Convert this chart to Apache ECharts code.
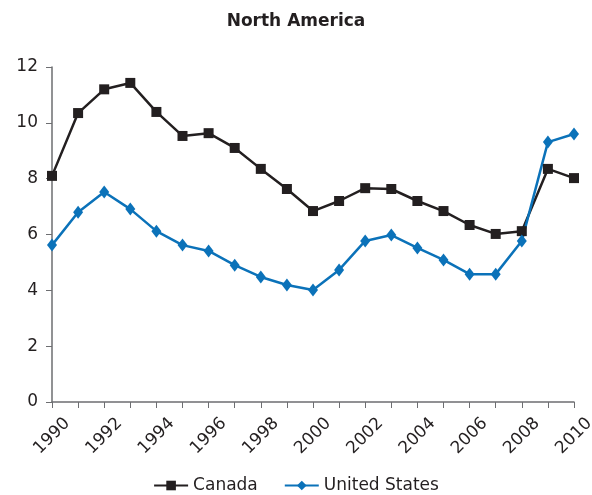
<!DOCTYPE html>
<html>
<head>
<meta charset="utf-8">
<script src="https://cdn.jsdelivr.net/npm/echarts@6/dist/echarts.min.js"></script>
<style>
  html, body { margin: 0; padding: 0; background: #fff; }
  #chart { width: 592px; height: 495px; }
</style>
</head>
<body>
<div id="chart"></div>
<script>
// Years on the horizontal axis
const years = ['1990','1991','1992','1993','1994','1995','1996','1997','1998','1999','2000',
               '2001','2002','2003','2004','2005','2006','2007','2008','2009','2010'];

// Series values
const canada = [8.1, 10.35, 11.2, 11.43, 10.39, 9.53, 9.63, 9.1, 8.35, 7.63, 6.84,
                7.2, 7.66, 7.63, 7.2, 6.84, 6.34, 6.02, 6.12, 8.35, 8.02];
const unitedStates = [5.62, 6.8, 7.52, 6.91, 6.12, 5.62, 5.41, 4.9, 4.48, 4.19, 4.01,
                      4.73, 5.77, 5.98, 5.52, 5.09, 4.58, 4.58, 5.77, 9.31, 9.6];

const FONT = '"DejaVu Sans", sans-serif';
const AXIS_COLOR = '#6d6e71';
const TEXT_COLOR = '#231f20';

const chart = echarts.init(document.getElementById('chart'));
chart.setOption({
  animation: false,
  title: {
    text: 'North America',
    left: 'center',
    top: 8,
    textStyle: { fontFamily: FONT, fontSize: 17, fontWeight: 'bold', color: TEXT_COLOR }
  },
  legend: {
    top: 472,
    left: 'center',
    itemWidth: 34,
    itemHeight: 12,
    itemGap: 26,
    textStyle: { fontFamily: FONT, fontSize: 17, color: TEXT_COLOR },
    data: ['Canada', 'United States']
  },
  grid: { left: 52, right: 18, top: 67, bottom: 93, outerBoundsMode: 'none' },
  xAxis: {
    type: 'category',
    data: years,
    boundaryGap: false,
    axisLine: { lineStyle: { color: AXIS_COLOR, width: 1.5 } },
    axisTick: { show: true, inside: false, length: 6, interval: 0, lineStyle: { color: AXIS_COLOR } },
    axisLabel: {
      interval: 1,
      rotate: 45,
      align: 'center',
      verticalAlign: 'middle',
      margin: 34,
      fontFamily: FONT,
      fontSize: 17,
      color: TEXT_COLOR
    },
    splitLine: { show: false }
  },
  yAxis: {
    type: 'value',
    min: 0,
    max: 12,
    interval: 2,
    axisLine: { show: true, lineStyle: { color: AXIS_COLOR, width: 1.5 } },
    axisTick: { show: true, length: 6, lineStyle: { color: AXIS_COLOR } },
    axisLabel: { fontFamily: FONT, fontSize: 17, color: TEXT_COLOR, margin: 14 },
    splitLine: { show: false }
  },
  series: [
    {
      name: 'Canada',
      type: 'line',
      data: canada,
      symbol: 'rect',
      symbolSize: 10,
      itemStyle: { color: TEXT_COLOR },
      lineStyle: { color: TEXT_COLOR, width: 2.5 }
    },
    {
      name: 'United States',
      type: 'line',
      data: unitedStates,
      symbol: 'diamond',
      symbolSize: [10, 13],
      itemStyle: { color: '#0b72b9' },
      lineStyle: { color: '#0b72b9', width: 2.5 }
    }
  ]
});
</script>
</body>
</html>
